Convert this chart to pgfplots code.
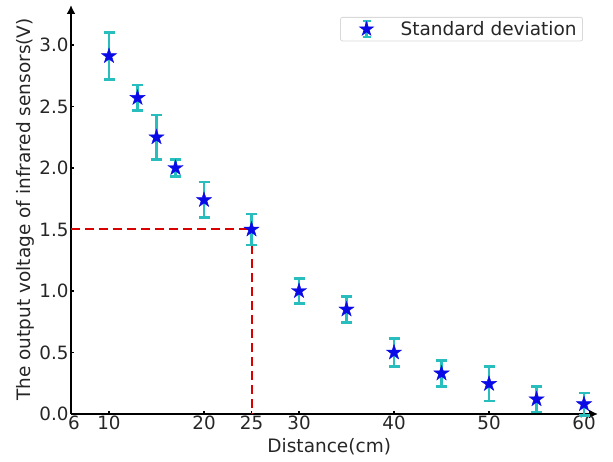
\documentclass[border=0pt]{standalone}
\usepackage{fontspec}
\setmainfont{DejaVu Sans}
\usepackage{pgfplots}
\pgfplotsset{compat=1.18}
\usetikzlibrary{arrows.meta}
\definecolor{errc}{RGB}{40,190,190}
\definecolor{starc}{RGB}{10,10,230}
\pgfdeclareplotmark{fstar}{%
  \pgfpathmoveto{\pgfpointpolar{90}{\pgfplotmarksize}}%
  \pgfpathlineto{\pgfpointpolar{126}{0.382\pgfplotmarksize}}%
  \pgfpathlineto{\pgfpointpolar{162}{\pgfplotmarksize}}%
  \pgfpathlineto{\pgfpointpolar{198}{0.382\pgfplotmarksize}}%
  \pgfpathlineto{\pgfpointpolar{234}{\pgfplotmarksize}}%
  \pgfpathlineto{\pgfpointpolar{270}{0.382\pgfplotmarksize}}%
  \pgfpathlineto{\pgfpointpolar{306}{\pgfplotmarksize}}%
  \pgfpathlineto{\pgfpointpolar{342}{0.382\pgfplotmarksize}}%
  \pgfpathlineto{\pgfpointpolar{18}{\pgfplotmarksize}}%
  \pgfpathlineto{\pgfpointpolar{54}{0.382\pgfplotmarksize}}%
  \pgfpathclose
  \pgfusepathqfillstroke}
\begin{document}
\begin{tikzpicture}
\begin{axis}[
  scale only axis,
  width=527pt, height=409pt,
  xmin=6, xmax=61.47, ymin=0, ymax=3.325,
  axis lines=left,
  axis line style={line width=2.2pt, -{Latex[length=9pt,width=9pt]}},
  xtick={6,10,20,25,30,40,50,60},
  xticklabels={\kern6pt 6,10,20,25,30,40,50,60},
  ytick={0,0.5,1,1.5,2,2.5,3},
  yticklabels={0.0,0.5,1.0,1.5,2.0,2.5,3.0},
  tick align=inside,
  major tick length=3pt,
  tick style={line width=1.5pt, black},
  /pgf/number format/assume math mode=true,
  tick label style={font=\fontsize{18.3}{21}\selectfont, text=black!85},
  label style={font=\fontsize{18.5}{21}\selectfont, text=black!85},
  xlabel={Distance(cm)},
  ylabel={The output voltage of infrared sensors(V)},
  xlabel style={at={(axis description cs:0.49,0)}, anchor=north, yshift=-21pt},
  ylabel style={yshift=-2pt},
  xticklabel style={yshift=2pt},
  yticklabel style={xshift=1pt},
  legend style={at={(0.9715,0.9707)}, anchor=north east,
    draw=black!15, rounded corners=2pt, line width=0.8pt,
    font=\fontsize{18.5}{21}\selectfont, text=black!85,
    inner xsep=4pt, inner ysep=2pt},
  legend cell align=left,
  clip=false,
]
\addplot[red!85!black, dashed, line width=2pt, dash pattern=on 9pt off 5pt, forget plot] coordinates {(6,1.5) (25,1.5) (25,0)};
\addplot[draw=none, mark=none, forget plot,
  error bars/.cd, y dir=both, y explicit,
  error bar style={color=errc, line width=2.6pt},
  error mark options={rotate=90, mark size=5.5pt, line width=2.6pt, color=errc}]
  table[x=x, y=y, y error=e] {
x y e
10 2.91 0.19
13 2.57 0.105
15 2.25 0.18
17 2.00 0.07
20 1.74 0.145
25 1.50 0.125
30 1.00 0.10
35 0.85 0.105
40 0.50 0.115
45 0.33 0.105
50 0.245 0.14
55 0.12 0.105
60 0.08 0.09
};
\addplot[only marks, mark=fstar, mark size=8pt, color=starc, fill=starc,
  legend image code/.code={
    \path[draw=none, fill=none] (0pt,0pt) rectangle (54pt,0.1pt);
    \draw[errc, line width=2.2pt] (22pt,-8pt) -- (22pt,8pt);
    \draw[errc, line width=2.2pt] (18pt,8pt) -- (26pt,8pt);
    \draw[errc, line width=2.2pt] (18pt,-8pt) -- (26pt,-8pt);
    \draw[starc, fill=starc, mark size=7pt] plot[mark=fstar] coordinates {(22pt,0pt)};
  }]
  table[x=x, y=y] {
x y
10 2.91
13 2.57
15 2.25
17 2.00
20 1.74
25 1.50
30 1.00
35 0.85
40 0.50
45 0.33
50 0.245
55 0.12
60 0.08
};
\addlegendentry{Standard deviation}
\end{axis}
\pgfresetboundingbox
\path (-71pt,-48pt) rectangle ++(613pt,462pt);
\end{tikzpicture}
\end{document}
